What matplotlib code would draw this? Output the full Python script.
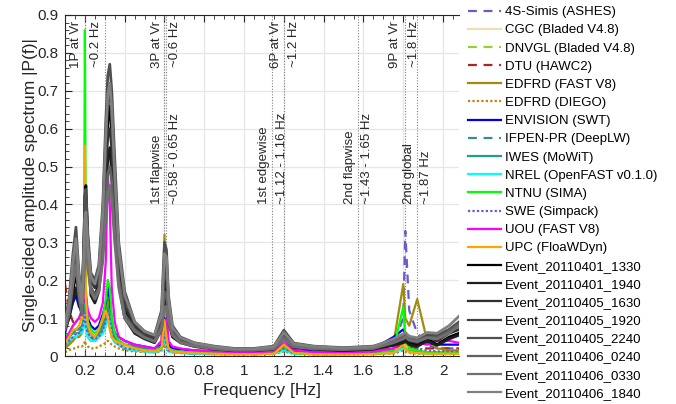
import matplotlib
matplotlib.use("Agg")
import matplotlib.pyplot as plt
from matplotlib.ticker import MultipleLocator

plt.rcParams['font.family'] = ['Liberation Sans', 'DejaVu Sans']

# frequency grid [Hz] shared by all series
freq = [0.10, 0.12, 0.14, 0.155, 0.17, 0.185, 0.195, 0.20, 0.205, 0.215,
        0.23, 0.25, 0.27, 0.29, 0.305, 0.315, 0.325, 0.335, 0.35, 0.37,
        0.40, 0.45, 0.50, 0.55, 0.585, 0.60, 0.61, 0.62, 0.64, 0.68,
        0.75, 0.85, 0.95, 1.05, 1.15, 1.20, 1.25, 1.35, 1.50, 1.65,
        1.75, 1.80, 1.81, 1.83, 1.87, 1.92, 1.97, 2.03, 2.08]

# simulations
ashes = [0.03, 0.04, 0.06, 0.07, 0.07, 0.08, 0.10, 0.15, 0.10, 0.07,
         0.05, 0.05, 0.06, 0.08, 0.12, 0.20, 0.16, 0.08, 0.05, 0.04,
         0.03, 0.02, 0.02, 0.015, 0.02, 0.08, 0.04, 0.02, 0.015, 0.012,
         0.01, 0.008, 0.008, 0.008, 0.01, 0.03, 0.012, 0.01, 0.01, 0.015,
         0.03, 0.10, 0.33, 0.12, 0.06, 0.03, 0.02, 0.02, 0.02]
cgc = [0.02, 0.03, 0.04, 0.05, 0.05, 0.06, 0.08, 0.12, 0.07, 0.05,
       0.04, 0.04, 0.05, 0.07, 0.09, 0.12, 0.10, 0.06, 0.04, 0.03,
       0.02, 0.015, 0.012, 0.01, 0.015, 0.06, 0.03, 0.015, 0.01, 0.008,
       0.006, 0.005, 0.005, 0.005, 0.006, 0.02, 0.006, 0.005, 0.005, 0.006,
       0.01, 0.03, 0.03, 0.015, 0.01, 0.008, 0.008, 0.008, 0.008]
dnvgl = [0.025, 0.035, 0.05, 0.06, 0.06, 0.07, 0.09, 0.14, 0.08, 0.06,
         0.05, 0.045, 0.055, 0.08, 0.10, 0.14, 0.11, 0.07, 0.045, 0.035,
         0.025, 0.018, 0.014, 0.012, 0.018, 0.07, 0.035, 0.018, 0.012, 0.01,
         0.008, 0.006, 0.006, 0.006, 0.008, 0.025, 0.008, 0.006, 0.006, 0.008,
         0.012, 0.035, 0.035, 0.018, 0.012, 0.01, 0.01, 0.01, 0.01]
dtu = [0.19, 0.12, 0.09, 0.09, 0.09, 0.10, 0.12, 0.20, 0.12, 0.08,
       0.06, 0.05, 0.06, 0.08, 0.10, 0.14, 0.12, 0.07, 0.05, 0.04,
       0.03, 0.025, 0.02, 0.02, 0.03, 0.08, 0.05, 0.025, 0.02, 0.015,
       0.012, 0.01, 0.01, 0.01, 0.015, 0.065, 0.02, 0.012, 0.012, 0.015,
       0.02, 0.03, 0.03, 0.025, 0.02, 0.02, 0.02, 0.02, 0.02]
edf_fast = [0.02, 0.03, 0.04, 0.05, 0.05, 0.06, 0.08, 0.12, 0.08, 0.05,
            0.04, 0.04, 0.05, 0.07, 0.10, 0.15, 0.12, 0.07, 0.04, 0.03,
            0.02, 0.015, 0.012, 0.012, 0.03, 0.32, 0.10, 0.03, 0.015, 0.01,
            0.008, 0.006, 0.006, 0.006, 0.008, 0.03, 0.01, 0.006, 0.006, 0.01,
            0.03, 0.19, 0.10, 0.08, 0.15, 0.04, 0.02, 0.015, 0.015]
edf_diego = [0.01, 0.015, 0.02, 0.02, 0.025, 0.025, 0.03, 0.04, 0.03, 0.025,
             0.02, 0.02, 0.025, 0.03, 0.035, 0.04, 0.035, 0.03, 0.025, 0.02,
             0.015, 0.012, 0.01, 0.01, 0.012, 0.03, 0.02, 0.012, 0.01, 0.008,
             0.006, 0.005, 0.004, 0.004, 0.005, 0.012, 0.005, 0.004, 0.004, 0.005,
             0.006, 0.015, 0.012, 0.008, 0.006, 0.005, 0.005, 0.005, 0.005]
envision = [0.06, 0.10, 0.14, 0.16, 0.13, 0.12, 0.15, 0.22, 0.15, 0.10,
            0.08, 0.07, 0.08, 0.11, 0.14, 0.18, 0.15, 0.09, 0.06, 0.05,
            0.04, 0.03, 0.025, 0.02, 0.03, 0.10, 0.06, 0.03, 0.02, 0.018,
            0.015, 0.012, 0.01, 0.01, 0.012, 0.03, 0.015, 0.012, 0.015, 0.02,
            0.05, 0.07, 0.06, 0.05, 0.04, 0.035, 0.03, 0.03, 0.03]
ifpen = [0.03, 0.04, 0.05, 0.06, 0.06, 0.07, 0.09, 0.13, 0.08, 0.06,
         0.05, 0.04, 0.05, 0.06, 0.08, 0.10, 0.08, 0.05, 0.04, 0.03,
         0.02, 0.015, 0.012, 0.01, 0.015, 0.05, 0.025, 0.012, 0.01, 0.008,
         0.006, 0.005, 0.005, 0.005, 0.006, 0.015, 0.006, 0.005, 0.005, 0.006,
         0.008, 0.02, 0.02, 0.012, 0.008, 0.007, 0.007, 0.007, 0.007]
iwes = [0.04, 0.05, 0.06, 0.07, 0.07, 0.08, 0.10, 0.14, 0.09, 0.07,
        0.06, 0.05, 0.06, 0.08, 0.10, 0.13, 0.11, 0.07, 0.05, 0.04,
        0.03, 0.025, 0.02, 0.018, 0.025, 0.07, 0.04, 0.02, 0.015, 0.012,
        0.01, 0.008, 0.007, 0.007, 0.008, 0.02, 0.008, 0.007, 0.007, 0.008,
        0.01, 0.025, 0.02, 0.012, 0.01, 0.008, 0.008, 0.008, 0.008]
nrel = [0.03, 0.04, 0.05, 0.05, 0.06, 0.06, 0.08, 0.11, 0.07, 0.05,
        0.04, 0.04, 0.05, 0.06, 0.08, 0.10, 0.09, 0.05, 0.035, 0.03,
        0.02, 0.015, 0.012, 0.01, 0.015, 0.05, 0.025, 0.012, 0.01, 0.008,
        0.006, 0.005, 0.005, 0.005, 0.006, 0.015, 0.006, 0.005, 0.005, 0.006,
        0.008, 0.02, 0.018, 0.01, 0.008, 0.007, 0.007, 0.007, 0.007]
ntnu = [0.05, 0.06, 0.08, 0.09, 0.10, 0.12, 0.20, 0.86, 0.18, 0.09,
        0.07, 0.06, 0.07, 0.10, 0.15, 0.20, 0.18, 0.10, 0.06, 0.04,
        0.03, 0.02, 0.015, 0.015, 0.02, 0.06, 0.04, 0.02, 0.015, 0.01,
        0.01, 0.008, 0.006, 0.006, 0.008, 0.02, 0.008, 0.006, 0.005, 0.008,
        0.015, 0.13, 0.05, 0.02, 0.015, 0.01, 0.01, 0.01, 0.01]
swe = [0.03, 0.04, 0.05, 0.06, 0.06, 0.07, 0.09, 0.12, 0.08, 0.06,
       0.05, 0.045, 0.05, 0.07, 0.09, 0.12, 0.10, 0.06, 0.04, 0.03,
       0.02, 0.018, 0.015, 0.012, 0.018, 0.06, 0.03, 0.015, 0.012, 0.01,
       0.008, 0.007, 0.006, 0.006, 0.008, 0.02, 0.008, 0.007, 0.007, 0.01,
       0.02, 0.05, 0.06, 0.03, 0.02, 0.015, 0.012, 0.012, 0.012]
uou = [0.04, 0.06, 0.08, 0.09, 0.10, 0.12, 0.15, 0.18, 0.16, 0.12,
       0.10, 0.09, 0.10, 0.14, 0.25, 0.48, 0.40, 0.18, 0.09, 0.05,
       0.04, 0.03, 0.025, 0.02, 0.04, 0.26, 0.12, 0.04, 0.025, 0.02,
       0.015, 0.012, 0.01, 0.01, 0.012, 0.035, 0.015, 0.01, 0.01, 0.012,
       0.02, 0.04, 0.035, 0.04, 0.035, 0.03, 0.04, 0.04, 0.035]
upc = [0.034, 0.05, 0.07, 0.07, 0.08, 0.10, 0.20, 0.555, 0.15, 0.08,
       0.06, 0.05, 0.07, 0.10, 0.12, 0.10, 0.07, 0.05, 0.04, 0.035,
       0.03, 0.02, 0.015, 0.012, 0.02, 0.095, 0.05, 0.02, 0.012, 0.01,
       0.008, 0.006, 0.005, 0.005, 0.006, 0.03, 0.008, 0.005, 0.004, 0.005,
       0.008, 0.03, 0.02, 0.01, 0.008, 0.006, 0.006, 0.006, 0.006]

# measured events
ev_0401_1330 = [0.08, 0.11, 0.17, 0.22, 0.16, 0.12, 0.30, 0.42, 0.45, 0.30,
                0.18, 0.16, 0.19, 0.32, 0.50, 0.62, 0.66, 0.58, 0.40, 0.22,
                0.12, 0.07, 0.05, 0.04, 0.08, 0.19, 0.18, 0.11, 0.06, 0.04,
                0.03, 0.02, 0.015, 0.015, 0.02, 0.05, 0.025, 0.02, 0.015, 0.02,
                0.03, 0.04, 0.045, 0.035, 0.03, 0.045, 0.03, 0.05, 0.06]
ev_0401_1940 = [0.07, 0.10, 0.15, 0.18, 0.14, 0.11, 0.25, 0.38, 0.40, 0.28,
                0.16, 0.14, 0.17, 0.28, 0.42, 0.52, 0.55, 0.48, 0.34, 0.19,
                0.10, 0.06, 0.045, 0.035, 0.07, 0.15, 0.14, 0.09, 0.05, 0.035,
                0.025, 0.018, 0.014, 0.014, 0.018, 0.045, 0.022, 0.018, 0.014, 0.018,
                0.028, 0.035, 0.04, 0.03, 0.025, 0.04, 0.028, 0.045, 0.055]
ev_0405_1630 = [0.09, 0.14, 0.24, 0.30, 0.20, 0.14, 0.28, 0.40, 0.42, 0.30,
                0.20, 0.18, 0.21, 0.34, 0.50, 0.58, 0.60, 0.55, 0.40, 0.24,
                0.13, 0.08, 0.055, 0.045, 0.09, 0.20, 0.19, 0.12, 0.065, 0.04,
                0.03, 0.022, 0.017, 0.017, 0.022, 0.055, 0.028, 0.022, 0.018, 0.022,
                0.035, 0.045, 0.05, 0.04, 0.035, 0.05, 0.04, 0.06, 0.07]
ev_0405_1920 = [0.08, 0.12, 0.21, 0.26, 0.18, 0.13, 0.24, 0.34, 0.36, 0.27,
                0.20, 0.19, 0.22, 0.37, 0.57, 0.67, 0.70, 0.63, 0.46, 0.27,
                0.15, 0.085, 0.06, 0.05, 0.10, 0.24, 0.23, 0.14, 0.07, 0.045,
                0.032, 0.024, 0.018, 0.018, 0.024, 0.058, 0.03, 0.024, 0.02, 0.024,
                0.04, 0.05, 0.055, 0.045, 0.04, 0.055, 0.05, 0.065, 0.08]
ev_0405_2240 = [0.09, 0.15, 0.27, 0.34, 0.22, 0.15, 0.30, 0.42, 0.44, 0.32,
                0.22, 0.20, 0.24, 0.40, 0.62, 0.74, 0.77, 0.70, 0.52, 0.30,
                0.17, 0.09, 0.065, 0.055, 0.12, 0.30, 0.28, 0.16, 0.08, 0.05,
                0.035, 0.026, 0.02, 0.02, 0.026, 0.068, 0.034, 0.026, 0.022, 0.026,
                0.042, 0.055, 0.06, 0.05, 0.045, 0.06, 0.055, 0.07, 0.09]
ev_0406_0240 = [0.075, 0.12, 0.22, 0.28, 0.18, 0.12, 0.22, 0.31, 0.33, 0.25,
                0.18, 0.16, 0.18, 0.28, 0.41, 0.48, 0.50, 0.46, 0.33, 0.20,
                0.11, 0.07, 0.05, 0.04, 0.08, 0.17, 0.16, 0.10, 0.06, 0.038,
                0.028, 0.02, 0.016, 0.016, 0.02, 0.05, 0.026, 0.02, 0.018, 0.022,
                0.038, 0.05, 0.052, 0.045, 0.04, 0.05, 0.048, 0.065, 0.085]
ev_0406_0330 = [0.07, 0.11, 0.19, 0.24, 0.16, 0.11, 0.20, 0.28, 0.30, 0.23,
                0.17, 0.15, 0.17, 0.25, 0.37, 0.43, 0.45, 0.41, 0.30, 0.18,
                0.10, 0.065, 0.048, 0.038, 0.07, 0.13, 0.13, 0.09, 0.055, 0.035,
                0.026, 0.019, 0.015, 0.015, 0.019, 0.045, 0.024, 0.019, 0.017, 0.02,
                0.035, 0.045, 0.05, 0.042, 0.038, 0.048, 0.045, 0.06, 0.08]
ev_0406_1840 = [0.085, 0.14, 0.25, 0.31, 0.21, 0.14, 0.27, 0.36, 0.38, 0.29,
                0.21, 0.19, 0.23, 0.38, 0.58, 0.69, 0.72, 0.65, 0.48, 0.28,
                0.16, 0.09, 0.065, 0.055, 0.11, 0.27, 0.26, 0.15, 0.075, 0.048,
                0.034, 0.025, 0.019, 0.019, 0.025, 0.062, 0.032, 0.025, 0.021, 0.025,
                0.045, 0.058, 0.062, 0.052, 0.048, 0.062, 0.06, 0.08, 0.105]

# (label, values, color, linestyle)
sims = [
    ("4S-Simis (ASHES)", ashes, "#6a5acd", (0, (4, 3))),
    ("CGC (Bladed V4.8)", cgc, "#f0deb0", "-"),
    ("DNVGL (Bladed V4.8)", dnvgl, "#9acd32", (0, (4, 3))),
    ("DTU (HAWC2)", dtu, "#b22222", (0, (4, 3))),
    ("EDFRD (FAST V8)", edf_fast, "#a08c10", "-"),
    ("EDFRD (DIEGO)", edf_diego, "#b8860b", (0, (1, 1))),
    ("ENVISION (SWT)", envision, "#0000ee", "-"),
    ("IFPEN-PR (DeepLW)", ifpen, "#3a8a9a", (0, (4, 3))),
    ("IWES (MoWiT)", iwes, "#20a08a", "-"),
    ("NREL (OpenFAST v0.1.0)", nrel, "#00ffff", "-"),
    ("NTNU (SIMA)", ntnu, "#00ff00", "-"),
    ("SWE (Simpack)", swe, "#6a5acd", (0, (1, 1))),
    ("UOU (FAST V8)", uou, "#ff00ff", "-"),
    ("UPC (FloaWDyn)", upc, "#ffa500", "-"),
]
events = [
    ("Event_20110401_1330", ev_0401_1330, "#000000"),
    ("Event_20110401_1940", ev_0401_1940, "#1e1e1e"),
    ("Event_20110405_1630", ev_0405_1630, "#303030"),
    ("Event_20110405_1920", ev_0405_1920, "#404040"),
    ("Event_20110405_2240", ev_0405_2240, "#505050"),
    ("Event_20110406_0240", ev_0406_0240, "#606060"),
    ("Event_20110406_0330", ev_0406_0330, "#707070"),
    ("Event_20110406_1840", ev_0406_1840, "#808080"),
]

# reference frequencies (dotted lines) and their notes
ref_lines = [0.2, 0.3, 0.6, 0.61, 1.14, 1.2, 1.57, 1.81, 1.87]
top_notes = [(0.154, "1P at Vr"), (0.258, "~0.2 Hz"), (0.56, "3P at Vr"),
             (0.654, "~0.6 Hz"), (1.16, "6P at Vr"), (1.253, "~1.2 Hz"),
             (1.76, "9P at Vr"), (1.854, "~1.8 Hz")]
mid_notes = [(0.56, "1st flapwise"), (0.654, "~0.58 - 0.65 Hz"),
             (1.102, "1st edgewise"), (1.191, "~1.12 - 1.16 Hz"),
             (1.53, "2nd flapwise"), (1.617, "~1.43 - 1.65 Hz"),
             (1.829, "2nd global"), (1.916, "~1.87 Hz")]
xticks = [0.2, 0.4, 0.6, 0.8, 1.0, 1.2, 1.4, 1.6, 1.8, 2.0]
xtick_labels = ["0.2", "0.4", "0.6", "0.8", "1", "1.2", "1.4", "1.6", "1.8", "2"]
yticks = [0, 0.1, 0.2, 0.3, 0.4, 0.5, 0.6, 0.7, 0.8, 0.9]
ytick_labels = ["0", "0.1", "0.2", "0.3", "0.4", "0.5", "0.6", "0.7", "0.8", "0.9"]

AX_COL = "#262626"

fig = plt.figure(figsize=(6.76, 4.04), dpi=100)
ax = fig.add_axes([65 / 676, 48 / 404, 394 / 676, 341 / 404])

for f0 in ref_lines:
    ax.axvline(f0, color="#808080", ls=(0, (1, 1.5)), lw=0.8, zorder=1)

for lab, vals, col, ls in sims:
    ax.plot(freq, vals, color=col, ls=ls, lw=1.6, label=lab, zorder=2)
for lab, vals, col in events:
    ax.plot(freq, vals, color=col, lw=2.0, label=lab, zorder=3)

for x, s in top_notes:
    ax.text(x, 0.885, s, rotation=90, ha="center", va="top", fontsize=9.5,
            color=AX_COL, zorder=4)
for x, s in mid_notes:
    ax.text(x, 0.4, s, rotation=90, ha="center", va="bottom", fontsize=9.5,
            color=AX_COL, zorder=4)

ax.set_xlim(0.1, 2.08)
ax.set_ylim(0, 0.9)
ax.set_xticks(xticks)
ax.set_xticklabels(xtick_labels)
ax.set_yticks(yticks)
ax.set_yticklabels(ytick_labels)
ax.xaxis.set_minor_locator(MultipleLocator(0.05))
ax.yaxis.set_minor_locator(MultipleLocator(0.02))
ax.grid(True, which="major", color="#e6e6e6", lw=0.9, zorder=0)
ax.set_axisbelow(True)
ax.tick_params(which="both", direction="in", top=True, right=False,
               colors=AX_COL, labelsize=11)
ax.tick_params(which="major", length=5, width=0.8)
ax.tick_params(which="minor", length=3, width=0.6)
ax.tick_params(axis="x", pad=6)
ax.tick_params(axis="y", pad=5)
for side in ["left", "bottom", "top"]:
    ax.spines[side].set_color(AX_COL)
    ax.spines[side].set_linewidth(0.8)
ax.spines["right"].set_visible(False)

ax.set_xlabel("Frequency [Hz]", fontsize=12.5, color=AX_COL, labelpad=3)
ax.set_ylabel("Single-sided amplitude spectrum |P(f)|", fontsize=12.5,
              color=AX_COL, labelpad=-1)

handles, labels = ax.get_legend_handles_labels()
leg = fig.legend(handles, labels, loc="upper left",
                 bbox_to_anchor=(468 / 676, 1 - 6 / 404), frameon=False,
                 fontsize=9.5, handlelength=2.5, handletextpad=0.3,
                 labelspacing=0.45, borderpad=0, borderaxespad=0)
for line in leg.get_lines():
    line.set_linewidth(1.6)

fig.savefig("out.png", dpi=100)
